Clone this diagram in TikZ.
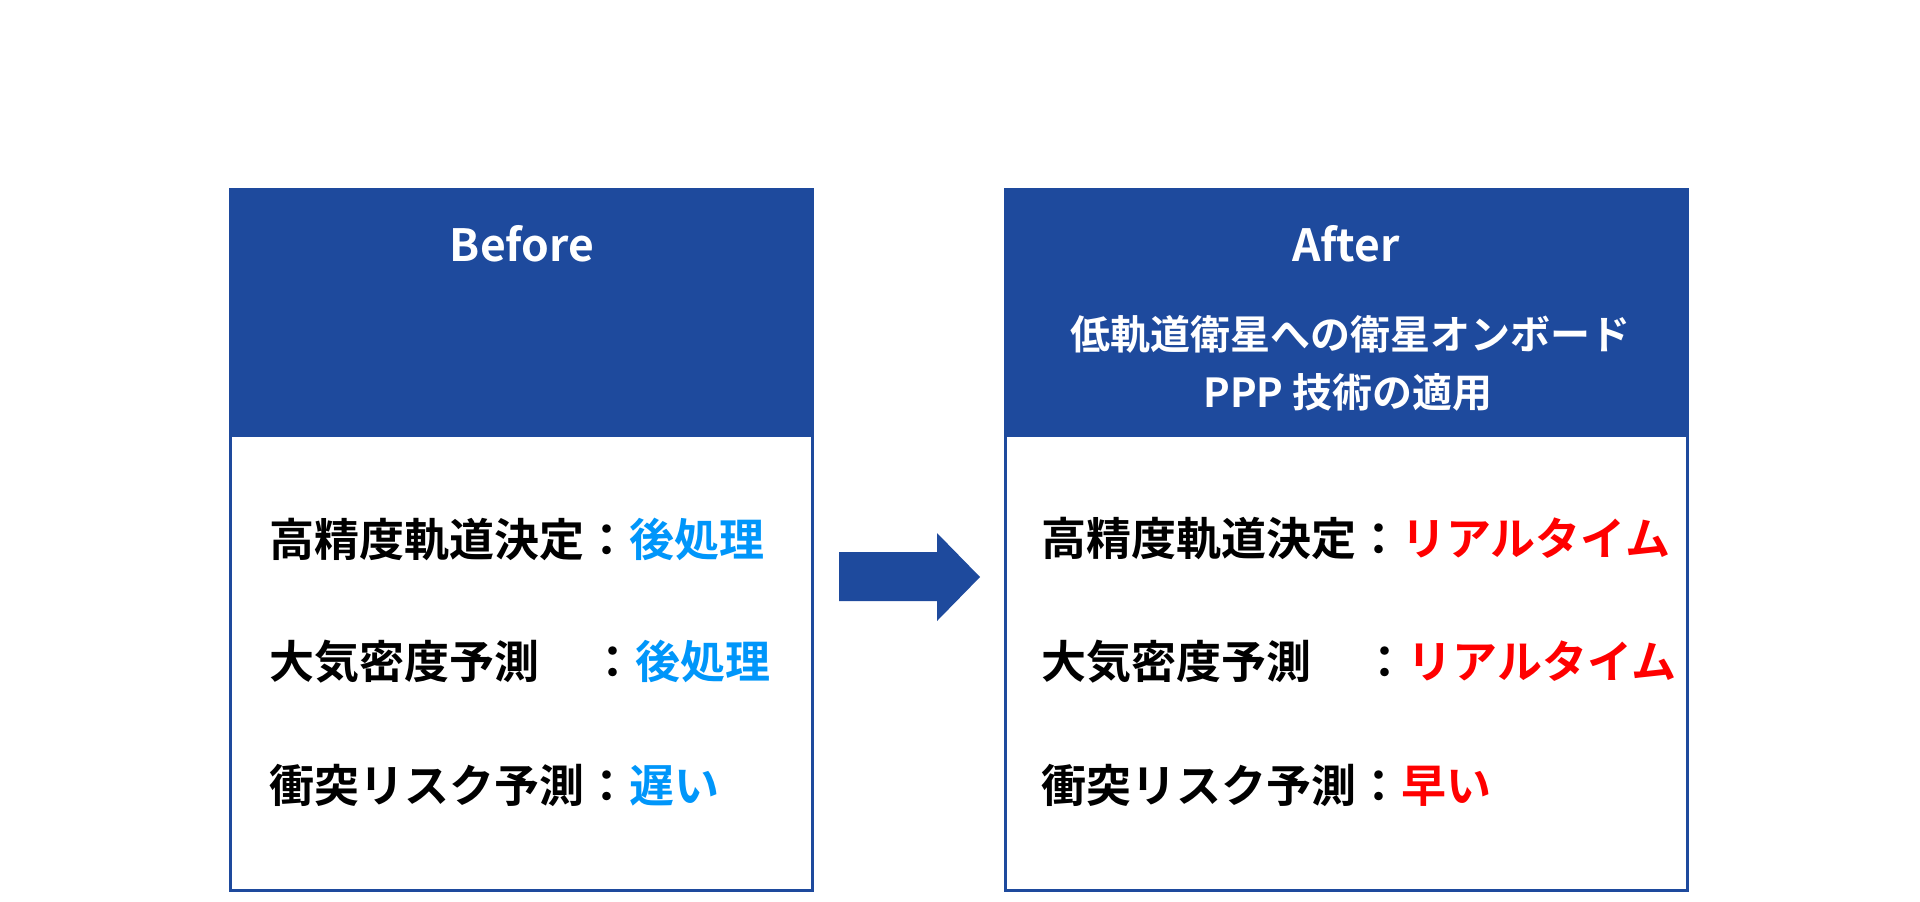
\documentclass[tikz,border=0pt]{standalone}
\usepackage{fontspec}
\setmainfont{Noto Sans CJK JP}[BoldFont={Noto Sans CJK JP Bold}]
\definecolor{hdrblue}{RGB}{30,74,157}
\definecolor{valblue}{RGB}{0,150,250}
\definecolor{valred}{RGB}{255,0,0}
\tikzset{
  panel/.style={draw=hdrblue, line width=1.5pt, fill=white, inner sep=0pt},
  header/.style={fill=hdrblue, draw=hdrblue, line width=1.5pt, inner sep=0pt},
  title/.style={text=white, font=\bfseries\fontsize{22.2}{26}\selectfont, inner sep=0pt},
  subtitle/.style={text=white, font=\bfseries\fontsize{20}{24}\selectfont, inner sep=0pt},
  row/.style={anchor=west, text=black, font=\bfseries\fontsize{22.5}{26}\selectfont, inner sep=0pt},
}
\begin{document}
\begin{tikzpicture}[x=0.5pt,y=-0.5pt]
\useasboundingbox (0,0) rectangle (1920,901);
% left panel
\node[panel, minimum width=291pt, minimum height=350.5pt] (lbox) at (521,539.5) {};
\node[header, minimum width=291pt, minimum height=123pt] (lhead) at (521,312) {};
\node[title] (ltitle) at (522,244) {Before};
\node[row] (l1) at (269,539) {高精度軌道決定：\textcolor{valblue}{後処理}};
\node[row] (l2) at (269,662) {大気密度予測\hspace{\dimexpr1em+3pt\relax}：\textcolor{valblue}{後処理}};
\node[row] (l3) at (269,785) {衝突リスク予測：\textcolor{valblue}{遅い}};
% right panel
\node[panel, minimum width=341pt, minimum height=350.5pt] (rbox) at (1346,539.5) {};
\node[header, minimum width=341pt, minimum height=123pt] (rhead) at (1346,312) {};
\node[title] (rtitle) at (1346,244) {After};
\node[subtitle] (rsub1) at (1350,334) {低軌道衛星への衛星オンボード};
\node[subtitle] (rsub2) at (1348,392) {PPP 技術の適用};
\node[row] (r1) at (1041,539) {高精度軌道決定：\textcolor{valred}{リアルタイム}};
\node[row] (r2) at (1041,662) {大気密度予測\hspace{\dimexpr1em+3pt\relax}：\textcolor{valred}{リアルタイム}};
\node[row] (r3) at (1041,785) {衝突リスク予測：\textcolor{valred}{早い}};
% arrow
\fill[hdrblue] (839,552) -- (937,552) -- (937,533) -- (980,577) -- (937,621) -- (937,601) -- (839,601) -- cycle;
\end{tikzpicture}
\end{document}
